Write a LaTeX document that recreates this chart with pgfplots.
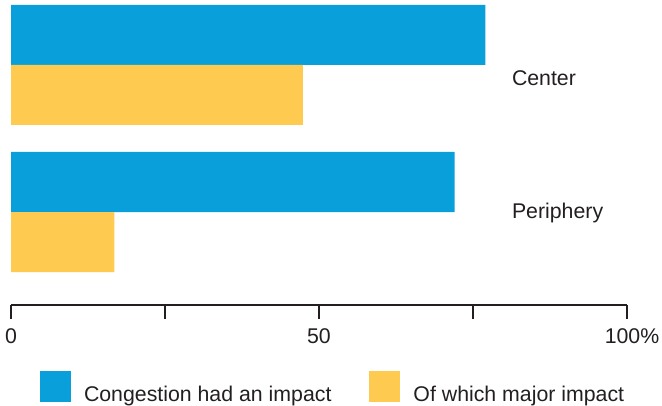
\documentclass[border=0pt]{standalone}
\usepackage{fontspec}
\setmainfont{Liberation Sans}
\usepackage{pgfplots}
\pgfplotsset{compat=1.18}

\definecolor{barblue}{RGB}{8,159,218}
\definecolor{baryellow}{RGB}{254,203,80}
\definecolor{textgray}{RGB}{35,31,32}

\newcommand{\chartfont}{\fontsize{21.3pt}{25pt}\selectfont}

\begin{document}
\begin{tikzpicture}[font=\chartfont, text=textgray]
\path[use as bounding box] (0,0) rectangle (662pt,405pt);
\begin{axis}[
  at={(11pt,100pt)}, anchor=south west,
  scale only axis,
  width=616pt, height=305pt,
  xmin=0, xmax=100,
  ymin=0, ymax=305,
  axis x line=bottom,
  axis y line=none,
  axis line style={line width=2pt, -, textgray},
  xtick={0,25,50,75,100},
  xticklabels={0,,50,,{\makebox[0pt]{\hspace{10pt}100\%}}},
  tick align=outside,
  major tick length=14pt,
  every tick/.style={line width=2pt, textgray},
  /pgf/number format/assume math mode=true,
  ticklabel style={font=\chartfont, text=textgray},
  xticklabel style={yshift=-6pt},
  xbar,
  bar width=60,
  legend columns=2,
  legend cell align=left,
  legend style={
    at={(0.0471,-0.2689)}, anchor=west,
    draw=none, fill=none, inner sep=0pt, outer sep=0pt,
    font=\chartfont, text=textgray,
    nodes={inner sep=0pt},
    /tikz/every odd column/.append style={column sep=13pt},
    /tikz/every even column/.append style={column sep=38pt},
  },
  legend image code/.code={\fill[#1] (0pt,-8pt) rectangle (31pt,23pt);},
]
% share of respondents; y positions place the two groups
\addplot[fill=barblue, draw=none, bar shift=30]
  coordinates {(77,240) (72,93)};
\addplot[fill=baryellow, draw=none, bar shift=-30]
  coordinates {(47.4,240) (16.8,93)};
\legend{Congestion had an impact, Of which major impact}
\node[anchor=base west, inner sep=0pt, text=textgray] at (axis cs:81.3,219) {Center};
\node[anchor=base west, inner sep=0pt, text=textgray] at (axis cs:81.3,87) {Periphery};
\end{axis}
\end{tikzpicture}
\end{document}
